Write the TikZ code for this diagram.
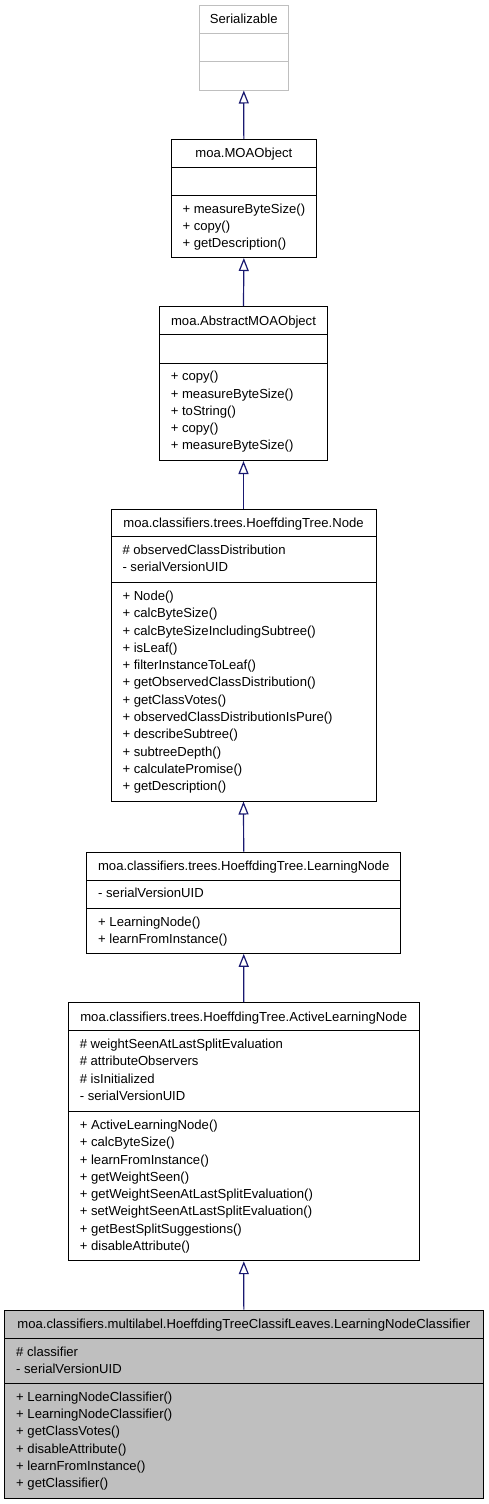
\documentclass[tikz,border=0pt]{standalone}
\usepackage{fontspec}
\setmainfont{Liberation Sans}
\usetikzlibrary{arrows.meta,fit}
\definecolor{edgeblue}{HTML}{191970}
\definecolor{lightborder}{HTML}{BFBFBF}
\definecolor{leaffill}{HTML}{BFBFBF}
\tikzset{
  cbox/.style={draw=black, line width=1pt, inner sep=0pt},
  ctitle/.style={anchor=base, inner sep=0pt, font=\fontsize{13.1}{17.27}\selectfont},
  member/.style={anchor=base west, inner sep=0pt, font=\fontsize{13.1}{17.27}\selectfont},
  divider/.style={draw=black, line width=1pt},
  inh/.style={draw=edgeblue, line width=1.2pt, -{Triangle[length=13pt,width=10pt,fill=white]}}
}
% #1 name, #2 left, #3 right, #4 top, #5 div1, #6 div2, #7 bottom, #8 title, #9 extra style
\newcommand\umlclass[9]{%
  \node[cbox, #9, fit={(#2,#4) (#3,#7)}] (#1) {};
  \draw[divider, #9] (#2,#5) -- (#3,#5);
  \draw[divider, #9] (#2,#6) -- (#3,#6);
  \node[ctitle] (#1-title) at ({(#2+#3)/2},{(#4+#5)/2+4.6}) {#8};
}
% #1 name, #2 left, #3 divider y, #4 list
\newcommand\umlmembers[4]{%
  \foreach \t [count=\i] in {#4}
    \node[member] (#1-\i) at ({#2+11.3},{#3+13.3+4.6+17.27*(\i-1)}) {\t};
}
\begin{document}
\begin{tikzpicture}[x=1pt,y=-1pt]
\useasboundingbox (0,0) rectangle (488,1504);

\umlclass{ser}{199.3}{288.3}{5.3}{33.3}{61.7}{90}{Serializable}{draw=lightborder}

\umlclass{moa}{171}{316.7}{139.3}{167.3}{195.3}{257.5}{moa.MOAObject}{}
\umlmembers{moa-m}{171}{195.3}{+ measureByteSize(),+ copy(),+ getDescription()}

\umlclass{abs}{159.3}{327.7}{306.7}{334.7}{363}{460.5}{moa.AbstractMOAObject}{}
\umlmembers{abs-m}{159.3}{363}{+ copy(),+ measureByteSize(),+ toString(),+ copy(),+ measureByteSize()}

\umlclass{node}{111}{376}{509.3}{536.7}{582.7}{801}{moa.classifiers.trees.HoeffdingTree.Node}{}
\umlmembers{node-a}{111}{536.7}{\# observedClassDistribution,- serialVersionUID}
\umlmembers{node-m}{111}{582.7}{+ Node(),+ calcByteSize(),+ calcByteSizeIncludingSubtree(),+ isLeaf(),+ filterInstanceToLeaf(),+ getObservedClassDistribution(),+ getClassVotes(),+ observedClassDistributionIsPure(),+ describeSubtree(),+ subtreeDepth(),+ calculatePromise(),+ getDescription()}

\umlclass{ln}{86.7}{400.7}{852}{880}{908.3}{953.3}{moa.classifiers.trees.HoeffdingTree.LearningNode}{}
\umlmembers{ln-a}{86.7}{880}{- serialVersionUID}
\umlmembers{ln-m}{86.7}{908.3}{+ LearningNode(),+ learnFromInstance()}

\umlclass{aln}{68.3}{419.3}{1002.7}{1030.7}{1111.7}{1260.7}{moa.classifiers.trees.HoeffdingTree.ActiveLearningNode}{}
\umlmembers{aln-a}{68.3}{1030.7}{\# weightSeenAtLastSplitEvaluation,\# attributeObservers,\# isInitialized,- serialVersionUID}
\umlmembers{aln-m}{68.3}{1111.7}{+ ActiveLearningNode(),+ calcByteSize(),+ learnFromInstance(),+ getWeightSeen(),+ getWeightSeenAtLastSplitEvaluation(),+ setWeightSeenAtLastSplitEvaluation(),+ getBestSplitSuggestions(),+ disableAttribute()}

\umlclass{lnc}{4.7}{483}{1310}{1338.3}{1383.3}{1498.3}{moa.classifiers.multilabel.HoeffdingTreeClassifLeaves.LearningNodeClassifier}{fill=leaffill}
\umlmembers{lnc-a}{4.7}{1338.3}{\# classifier,- serialVersionUID}
\umlmembers{lnc-m}{4.7}{1383.3}{+ LearningNodeClassifier(),+ LearningNodeClassifier(),+ getClassVotes(),+ disableAttribute(),+ learnFromInstance(),+ getClassifier()}

\draw[inh] (moa.north) -- (ser.south);
\draw[inh] (abs.north) -- (moa.south);
\draw[inh] (node.north) -- (abs.south);
\draw[inh] (ln.north) -- (node.south);
\draw[inh] (aln.north) -- (ln.south);
\draw[inh] (lnc.north) -- (aln.south);
\end{tikzpicture}
\end{document}
